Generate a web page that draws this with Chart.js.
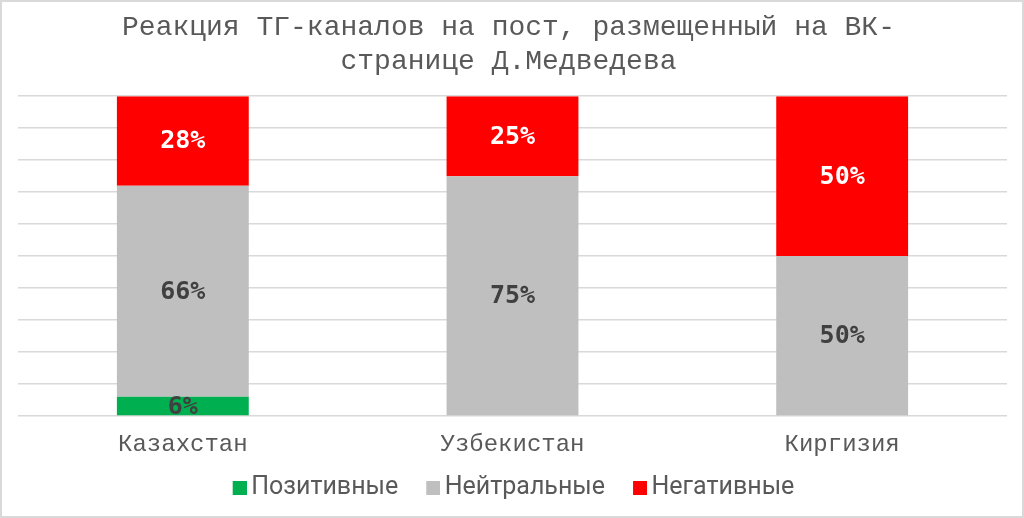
<!DOCTYPE html>
<html lang="ru">
<head>
  <meta charset="UTF-8">
  <title>Реакция ТГ-каналов</title>
  <script src="https://cdn.jsdelivr.net/npm/chart.js"></script>
  <style>
    body { margin: 0; background: #fff; }
    .frame { width: 1024px; height: 518px; box-sizing: border-box; border: 2px solid #d9d9d9; background: #fff; }
  </style>
</head>
<body>
  <div class="frame">
    <canvas id="chart" width="1020" height="514"></canvas>
  </div>

  <script>
    const titleLines = ['Реакция ТГ-каналов на пост, размещенный на ВК-', 'странице Д.Медведева'];
    const countries = ['Казахстан', 'Узбекистан', 'Киргизия'];
    const series = ['Позитивные', 'Нейтральные', 'Негативные'];
    const positive = [6, 0, 0];
    const neutral = [66, 75, 50];
    const negative = [28, 25, 50];

    const colors = ['#00B050', '#BFBFBF', '#FF0000'];
    const labelColors = ['#404040', '#404040', '#FFFFFF'];

    // квадратик легенды шире места под значок, чтобы текст шёл почти вплотную
    function legendSwatch(color) {
      const c = document.createElement('canvas');
      c.width = 32;
      c.height = 14;
      const g = c.getContext('2d');
      g.fillStyle = color;
      g.fillRect(18, 0, 14, 14);
      return c;
    }

    // подписи в центре каждого сегмента
    const segmentLabels = {
      id: 'segmentLabels',
      afterDatasetsDraw(chart) {
        const ctx = chart.ctx;
        ctx.save();
        ctx.font = 'bold 25px "DejaVu Sans Mono"';
        ctx.textAlign = 'center';
        ctx.textBaseline = 'middle';
        chart.data.datasets.forEach((ds, i) => {
          const meta = chart.getDatasetMeta(i);
          meta.data.forEach((bar, j) => {
            const v = ds.data[j];
            if (!v) return;
            const p = bar.getProps(['x', 'y', 'base'], true);
            ctx.fillStyle = labelColors[i];
            ctx.fillText(v + '%', p.x, (p.y + p.base) / 2 + 1);
          });
        });
        ctx.restore();
      }
    };

    new Chart(document.getElementById('chart').getContext('2d'), {
      type: 'bar',
      data: {
        labels: countries,
        datasets: [
          { label: series[0], data: positive, backgroundColor: colors[0] },
          { label: series[1], data: neutral, backgroundColor: colors[1] },
          { label: series[2], data: negative, backgroundColor: colors[2] }
        ]
      },
      options: {
        responsive: false,
        animation: false,
        layout: { padding: { left: 8, right: 15, top: 0, bottom: 6 } },
        datasets: { bar: { barPercentage: 0.4, categoryPercentage: 1 } },
        scales: {
          x: {
            stacked: true,
            grid: { display: false, drawTicks: false },
            border: { display: false },
            ticks: { color: '#595959', padding: 14, font: { family: '"Liberation Mono"', size: 24 } },
            afterFit(scale) { scale.height = 41; }
          },
          y: {
            stacked: true,
            min: 0,
            max: 100,
            ticks: { display: false, stepSize: 10 },
            grid: { color: '#D9D9D9', lineWidth: 1.5, drawTicks: false },
            border: { display: false },
            afterFit(scale) { scale.width = 8; }
          }
        },
        plugins: {
          title: {
            display: true,
            text: titleLines,
            color: '#595959',
            font: { family: '"Liberation Mono"', size: 28, weight: 'normal', lineHeight: 1.2 },
            padding: { top: 9, bottom: 18 }
          },
          legend: {
            position: 'bottom',
            labels: {
              color: '#595959',
              usePointStyle: true,
              pointStyleWidth: 16,
              boxHeight: 14,
              padding: 18,
              font: { family: 'Roboto', size: 25 },
              generateLabels(chart) {
                const items = Chart.defaults.plugins.legend.labels.generateLabels(chart);
                items.forEach((it, i) => { it.pointStyle = legendSwatch(colors[i]); });
                return items;
              }
            }
          },
          tooltip: { enabled: false }
        }
      },
      plugins: [segmentLabels]
    });
  </script>
</body>
</html>
